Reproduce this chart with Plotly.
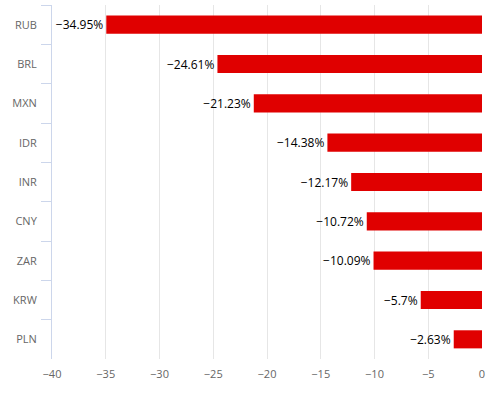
import plotly.graph_objects as go

currencies = ["RUB", "BRL", "MXN", "IDR", "INR", "CNY", "ZAR", "KRW", "PLN"]
changes = [-34.95, -24.61, -21.23, -14.38, -12.17, -10.72, -10.09, -5.7, -2.63]
labels = ["\u221234.95%", "\u221224.61%", "\u221221.23%", "\u221214.38%", "\u221212.17%",
          "\u221210.72%", "\u221210.09%", "\u22125.7%", "\u22122.63%"]
x_ticks = [-40, -35, -30, -25, -20, -15, -10, -5, 0]

fig = go.Figure(go.Bar(
    x=changes, y=currencies, orientation="h",
    marker=dict(color="#e00000", line=dict(width=0)),
    text=labels, textposition="outside", cliponaxis=False,
    textfont=dict(size=12, color="#000000"),
    hoverinfo="skip",
))

fig.update_layout(
    width=500, height=397,
    margin=dict(l=52, r=18, t=5, b=38),
    paper_bgcolor="white", plot_bgcolor="white",
    font=dict(family="Open Sans, sans-serif", size=11, color="#666666"),
    bargap=0.54, showlegend=False,
)
fig.update_xaxes(
    range=[-40, 0], tickvals=x_ticks, showgrid=True, gridcolor="#e6e6e6",
    zeroline=False, showline=False, ticks="", ticklabelstandoff=7,
    tickfont=dict(size=11, color="#666666"),
)
fig.update_yaxes(
    categoryorder="array", categoryarray=currencies, autorange="reversed",
    showline=True, linecolor="#ccd6eb", ticks="outside", ticklen=10, tickcolor="#ccd6eb",
    tickson="boundaries", showgrid=False, ticklabelstandoff=12,
    tickfont=dict(size=11, color="#666666"),
)
fig.write_html("out.html", config={"displayModeBar": False},
               post_script="document.body.style.margin='0';")
